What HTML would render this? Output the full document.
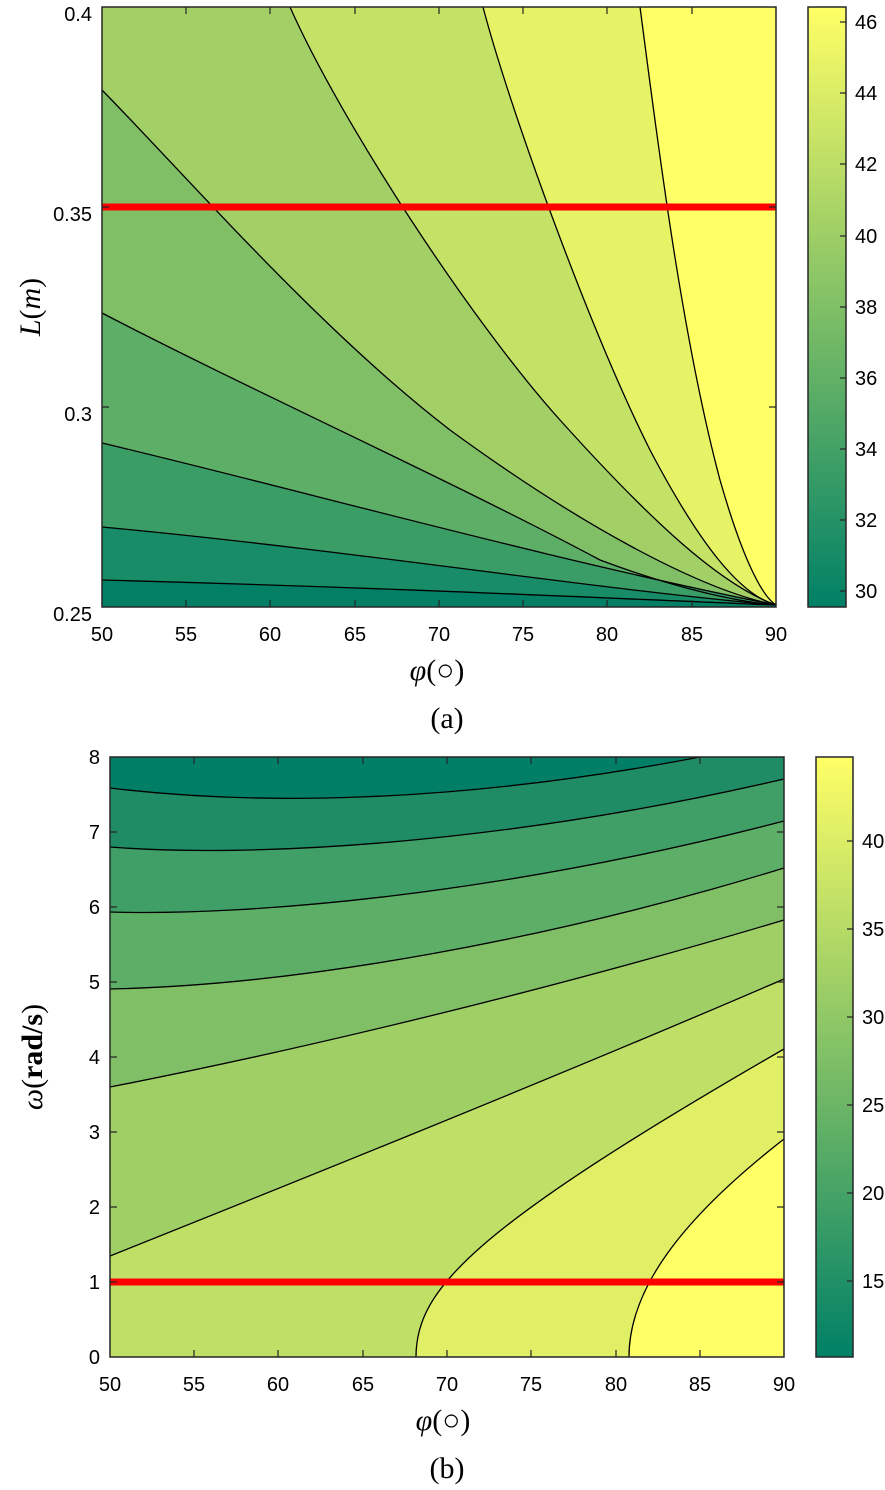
<!DOCTYPE html>
<html><head><meta charset="utf-8"><style>
html,body{margin:0;padding:0;background:#fff;}
svg text{font-family:"Liberation Sans",sans-serif;font-size:20px;fill:#000;}
.ser{font-family:"Liberation Serif",serif;}
</style></head><body>
<svg width="885" height="1485" viewBox="0 0 885 1485" xmlns="http://www.w3.org/2000/svg">
<defs>
<linearGradient id="ga" x1="0" y1="1" x2="0" y2="0"><stop offset="0" stop-color="#008066"/><stop offset="1" stop-color="#ffff66"/></linearGradient>
</defs>
<!-- Plot A -->
<g stroke="none">
<rect x="102" y="7" width="674" height="600" fill="#ffff66"/>
<path d="M640,7 C655,120 680,330 720,480 C740,550 760,595 776,605 L776,607 L102,607 L102,7Z" fill="#e7f366"/>
<path d="M483,7 C510,110 590,330 650,450 C700,545 740,595 776,605 L776,607 L102,607 L102,7Z" fill="#c4e266"/>
<path d="M290,7 C340,120 470,320 560,420 C650,520 720,585 776,605 L776,607 L102,607 L102,7Z" fill="#a2d067"/>
<path d="M102,90 C190,180 320,330 450,430 C580,525 700,590 776,605 L776,607 L102,607Z" fill="#80bf66"/>
<path d="M102,313 C250,390 450,480 600,560 C680,590 740,602 776,605 L776,607 L102,607Z" fill="#5dae66"/>
<path d="M102,443 C300,490 550,560 776,605 L776,607 L102,607Z" fill="#3a9d66"/>
<path d="M102,527 C350,550 600,590 776,605 L776,607 L102,607Z" fill="#188c66"/>
<path d="M102,580 C400,588 600,598 776,605 L776,607 L102,607Z" fill="#037f66"/>
</g>
<g fill="none" stroke="#000" stroke-width="1.3">
<path d="M640,7 C655,120 680,330 720,480 C740,550 760,595 776,605"/>
<path d="M483,7 C510,110 590,330 650,450 C700,545 740,595 776,605"/>
<path d="M290,7 C340,120 470,320 560,420 C650,520 720,585 776,605"/>
<path d="M102,90 C190,180 320,330 450,430 C580,525 700,590 776,605"/>
<path d="M102,313 C250,390 450,480 600,560 C680,590 740,602 776,605"/>
<path d="M102,443 C300,490 550,560 776,605"/>
<path d="M102,527 C350,550 600,590 776,605"/>
<path d="M102,580 C400,588 600,598 776,605"/>
</g>
<line x1="102" y1="207" x2="776" y2="207" stroke="#ff0000" stroke-width="7"/>
<rect x="102" y="7" width="674" height="600" fill="none" stroke="#262626" stroke-width="1.5"/>
<g stroke="#262626" stroke-width="1.2">
<path d="M186,7v7M270,7v7M355,7v7M439,7v7M523,7v7M607,7v7M692,7v7"/>
<path d="M186,607v-7M270,607v-7M355,607v-7M439,607v-7M523,607v-7M607,607v-7M692,607v-7"/>
<path d="M102,207h7M102,407h7M776,207h-7M776,407h-7"/>
</g>
<g text-anchor="end">
<text x="92" y="21">0.4</text><text x="92" y="221">0.35</text><text x="92" y="421">0.3</text><text x="92" y="621">0.25</text>
</g>
<g text-anchor="middle">
<text x="102" y="641">50</text><text x="186" y="641">55</text><text x="270" y="641">60</text><text x="355" y="641">65</text><text x="439" y="641">70</text><text x="523" y="641">75</text><text x="607" y="641">80</text><text x="692" y="641">85</text><text x="776" y="641">90</text>
</g>
<text class="ser" x="437" y="680" text-anchor="middle" style="font-size:30px"><tspan font-style="italic">φ</tspan>(○)</text>
<text class="ser" x="447" y="728" text-anchor="middle" style="font-size:30px">(a)</text>
<text class="ser" transform="translate(40,307) rotate(-90)" text-anchor="middle" style="font-size:30px"><tspan font-style="italic">L</tspan>(<tspan font-style="italic">m</tspan>)</text>
<rect x="808" y="7" width="38" height="600" fill="url(#ga)" stroke="#262626" stroke-width="1.5"/>
<g stroke="#262626" stroke-width="1.2"><path d="M846,591h-6M846,520h-6M846,449h-6M846,378h-6M846,307h-6M846,236h-6M846,164h-6M846,93h-6M846,22h-6"/></g>
<g>
<text x="855" y="598">30</text><text x="855" y="527">32</text><text x="855" y="456">34</text><text x="855" y="385">36</text><text x="855" y="314">38</text><text x="855" y="243">40</text><text x="855" y="171">42</text><text x="855" y="100">44</text><text x="855" y="29">46</text>
</g>
<!-- Plot B -->
<g stroke="none">
<rect x="110" y="757" width="674" height="600" fill="#ffff66"/>
<path d="M629,1357 C629,1290 680,1220 784,1139 L784,757 L110,757 L110,1357Z" fill="#e0ef66"/>
<path d="M416,1357 C416,1290 470,1230 784,1049 L784,757 L110,757 L110,1357Z" fill="#c0df66"/>
<path d="M110,1256 C250,1200 550,1080 784,979 L784,757 L110,757Z" fill="#a0cf66"/>
<path d="M110,1087 C300,1050 550,990 784,920 L784,757 L110,757Z" fill="#80bf66"/>
<path d="M110,989 C300,985 550,940 784,868 L784,757 L110,757Z" fill="#5dae66"/>
<path d="M110,912 C250,916 500,895 784,821 L784,757 L110,757Z" fill="#409f66"/>
<path d="M110,847 C250,858 500,845 784,779 L784,757 L110,757Z" fill="#208c66"/>
<path d="M110,788 C250,805 450,805 700,757 L110,757Z" fill="#007f66"/>
</g>
<g fill="none" stroke="#000" stroke-width="1.3">
<path d="M629,1357 C629,1290 680,1220 784,1139"/>
<path d="M416,1357 C416,1290 470,1230 784,1049"/>
<path d="M110,1256 C250,1200 550,1080 784,979"/>
<path d="M110,1087 C300,1050 550,990 784,920"/>
<path d="M110,989 C300,985 550,940 784,868"/>
<path d="M110,912 C250,916 500,895 784,821"/>
<path d="M110,847 C250,858 500,845 784,779"/>
<path d="M110,788 C250,805 450,805 700,757"/>
</g>
<line x1="110" y1="1282" x2="784" y2="1282" stroke="#ff0000" stroke-width="7"/>
<rect x="110" y="757" width="674" height="600" fill="none" stroke="#262626" stroke-width="1.5"/>
<g stroke="#262626" stroke-width="1.2">
<path d="M194,757v7M278,757v7M363,757v7M447,757v7M531,757v7M616,757v7M700,757v7"/>
<path d="M194,1357v-7M278,1357v-7M363,1357v-7M447,1357v-7M531,1357v-7M616,1357v-7M700,1357v-7"/>
<path d="M110,832h7M110,907h7M110,982h7M110,1057h7M110,1132h7M110,1207h7M110,1282h7"/>
<path d="M784,832h-7M784,907h-7M784,982h-7M784,1057h-7M784,1132h-7M784,1207h-7M784,1282h-7"/>
</g>
<g text-anchor="end">
<text x="100" y="764">8</text><text x="100" y="839">7</text><text x="100" y="914">6</text><text x="100" y="989">5</text><text x="100" y="1064">4</text><text x="100" y="1139">3</text><text x="100" y="1214">2</text><text x="100" y="1289">1</text><text x="100" y="1364">0</text>
</g>
<g text-anchor="middle">
<text x="110" y="1391">50</text><text x="194" y="1391">55</text><text x="278" y="1391">60</text><text x="363" y="1391">65</text><text x="447" y="1391">70</text><text x="531" y="1391">75</text><text x="616" y="1391">80</text><text x="700" y="1391">85</text><text x="784" y="1391">90</text>
</g>
<text class="ser" x="443" y="1430" text-anchor="middle" style="font-size:30px"><tspan font-style="italic">φ</tspan>(○)</text>
<text class="ser" x="447" y="1478" text-anchor="middle" style="font-size:30px">(b)</text>
<text class="ser" transform="translate(42,1057) rotate(-90)" text-anchor="middle" style="font-size:30px"><tspan font-style="italic">ω</tspan>(<tspan font-weight="bold">rad/s</tspan>)</text>
<rect x="816" y="757" width="37" height="600" fill="url(#ga)" stroke="#262626" stroke-width="1.5"/>
<g stroke="#262626" stroke-width="1.2"><path d="M853,1281h-6M853,1193h-6M853,1105h-6M853,1017h-6M853,929h-6M853,841h-6"/></g>
<g>
<text x="862" y="1288">15</text><text x="862" y="1200">20</text><text x="862" y="1112">25</text><text x="862" y="1024">30</text><text x="862" y="936">35</text><text x="862" y="848">40</text>
</g>
</svg>
</body></html>
